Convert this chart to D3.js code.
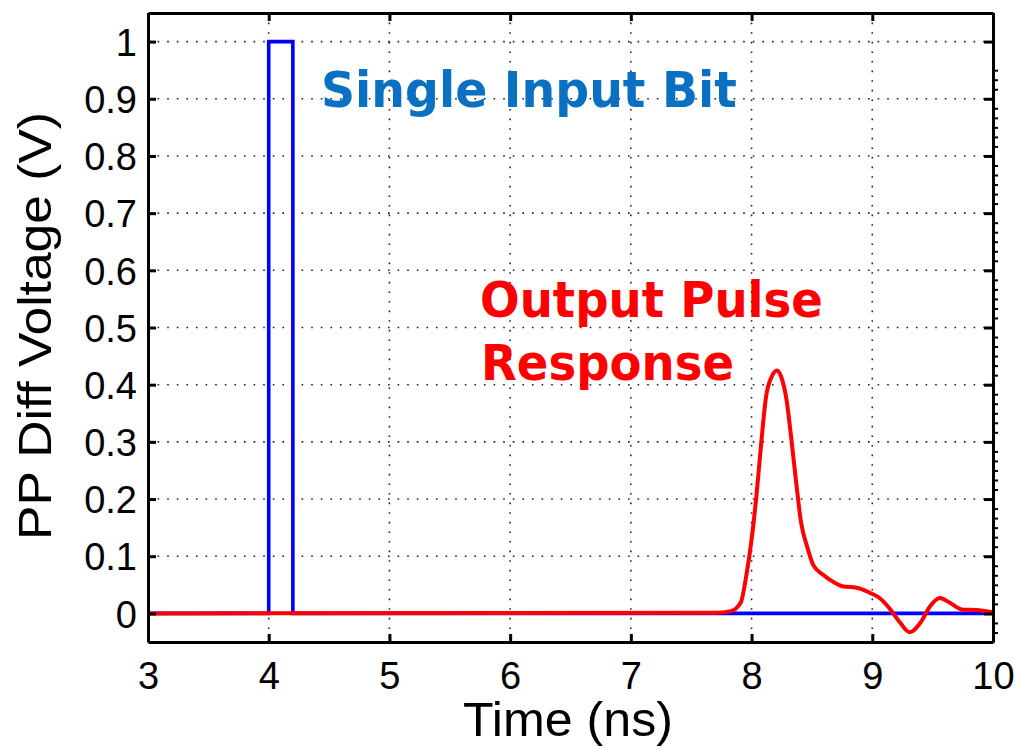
<!DOCTYPE html>
<html><head><meta charset="utf-8">
<script src="https://cdn.jsdelivr.net/npm/d3@7"></script>
<style>html,body{margin:0;padding:0;background:#fff;}svg{display:block;}</style>
</head><body>
<svg id="chart" width="1016" height="747"></svg>
<script>
// Data
const xTicks = [3, 4, 5, 6, 7, 8, 9, 10];
const yTicks = [0, 0.1, 0.2, 0.3, 0.4, 0.5, 0.6, 0.7, 0.8, 0.9, 1];
const inputTime =    [3, 4, 4, 4.2, 4.2, 10];
const inputVoltage = [0, 0, 1, 1,   0,   0];
const outputTime =    [3, 7.7, 7.83, 7.91, 7.96, 8.0, 8.04, 8.08, 8.12, 8.167, 8.21, 8.25, 8.29, 8.33, 8.37, 8.41, 8.46, 8.51, 8.59, 8.67, 8.76, 8.87, 8.98, 9.06, 9.15, 9.23, 9.31, 9.40, 9.48, 9.56, 9.64, 9.74, 9.86, 10];
const outputVoltage = [0, 0.001, 0.004, 0.019, 0.071, 0.129, 0.205, 0.298, 0.379, 0.414, 0.425, 0.411, 0.373, 0.304, 0.228, 0.159, 0.117, 0.085, 0.068, 0.056, 0.047, 0.045, 0.036, 0.027, 0.007, -0.016, -0.033, -0.016, 0.013, 0.027, 0.019, 0.007, 0.006, 0.002];

const svg = d3.select("#chart");
const L = 148, R = 993, T = 13, B = 642;
const x = d3.scaleLinear().domain([3, 10]).range([L, R]);
const y = d3.scaleLinear().domain([-0.05, 1.05]).range([B, T]);

// grid
const grid = svg.append("g").attr("stroke", "#222").attr("stroke-width", 1.6)
  .attr("stroke-dasharray", "1.6,8").attr("fill", "none");
xTicks.slice(1, -1).forEach(t => grid.append("line")
  .attr("x1", x(t)).attr("x2", x(t)).attr("y1", T).attr("y2", B));
yTicks.forEach(v => grid.append("line")
  .attr("x1", L).attr("x2", R).attr("y1", y(v)).attr("y2", y(v)));

// series
const line = d3.line().x(d => x(d[0])).y(d => y(d[1]));
svg.append("path").datum(d3.zip(inputTime, inputVoltage))
  .attr("d", line).attr("fill", "none").attr("stroke", "#0000ff").attr("stroke-width", 3.6);
svg.append("path").datum(d3.zip(outputTime, outputVoltage))
  .attr("d", line.curve(d3.curveMonotoneX)).attr("fill", "none").attr("stroke", "#ff0000")
  .attr("stroke-width", 4).attr("stroke-linejoin", "round");

// axes
const tickFont = "Liberation Sans, Arial, sans-serif";
const xAxis = svg.append("g").attr("transform", `translate(0,${B})`)
  .call(d3.axisBottom(x).tickValues(xTicks).tickFormat(d3.format("d")).tickSizeInner(-8).tickSizeOuter(0).tickPadding(20));
const xTop = svg.append("g").attr("transform", `translate(0,${T})`)
  .call(d3.axisTop(x).tickValues(xTicks).tickFormat("").tickSizeInner(-8).tickSizeOuter(0));
const yAxis = svg.append("g").attr("transform", `translate(${L},0)`)
  .call(d3.axisLeft(y).tickValues(yTicks).tickFormat(d => d === 0 ? "0" : d === 1 ? "1" : d3.format(".1f")(d)).tickSizeInner(-8).tickSizeOuter(0).tickPadding(11));
const minorTicks = d3.range(0, 61).map(i => -0.05 + i * (0.1 / 6)).filter(v => v > -0.05 && v < 1.05);
const yRightMinor = svg.append("g").attr("transform", `translate(${R},0)`)
  .call(d3.axisRight(y).tickValues(minorTicks.filter(v => Math.abs(v*10 - Math.round(v*10)) > 0.01)).tickFormat("").tickSizeInner(5).tickSizeOuter(0));
const yRight = svg.append("g").attr("transform", `translate(${R},0)`)
  .call(d3.axisRight(y).tickValues(yTicks).tickFormat("").tickSizeInner(-9).tickSizeOuter(0));

[xAxis, xTop, yAxis, yRight, yRightMinor].forEach(g => {
  g.select(".domain").attr("stroke", "#000").attr("stroke-width", 3);
  g.selectAll(".tick line").attr("stroke", "#000").attr("stroke-width", 3);
  g.selectAll("text").attr("font-family", tickFont).attr("font-size", 38).attr("fill", "#000");
});
yRightMinor.selectAll(".tick line").attr("stroke-width", 2);
yAxis.selectAll("text").attr("dy", "0.36em");
xAxis.selectAll("text").attr("dy", "0.71em");

// axis labels
svg.append("text").attr("x", 463).attr("y", 736)
  .attr("font-family", tickFont).attr("font-size", 48).attr("fill", "#000")
  .attr("textLength", 210).attr("lengthAdjust", "spacingAndGlyphs").text("Time (ns)");
svg.append("text").attr("transform", "translate(51,540) rotate(-90)")
  .attr("font-family", tickFont).attr("font-size", 47).attr("fill", "#000")
  .attr("textLength", 428).attr("lengthAdjust", "spacingAndGlyphs").text("PP Diff Voltage (V)");

// annotations
const boldFont = "DejaVu Sans, Verdana, sans-serif";
svg.append("text").attr("x", 321).attr("y", 107).attr("font-family", boldFont).attr("font-weight", "bold")
  .attr("font-size", 50).attr("fill", "#0a70c2").attr("textLength", 416).attr("lengthAdjust", "spacingAndGlyphs").text("Single Input Bit");
svg.append("text").attr("x", 480).attr("y", 317).attr("font-family", boldFont).attr("font-weight", "bold")
  .attr("font-size", 49).attr("fill", "#ff0000").attr("textLength", 343).attr("lengthAdjust", "spacingAndGlyphs").text("Output Pulse");
svg.append("text").attr("x", 481).attr("y", 380).attr("font-family", boldFont).attr("font-weight", "bold")
  .attr("font-size", 49).attr("fill", "#ff0000").attr("textLength", 253).attr("lengthAdjust", "spacingAndGlyphs").text("Response");
</script>
</body></html>
